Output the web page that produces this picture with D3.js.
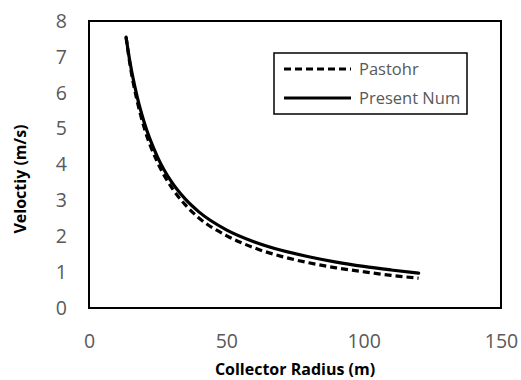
<!DOCTYPE html>
<html>
<head>
<meta charset="utf-8">
<script src="https://cdn.jsdelivr.net/npm/d3@7"></script>
<style>
  html, body { margin: 0; padding: 0; background: #fff; }
  svg { display: block; }
</style>
</head>
<body>
<svg id="chart" width="521" height="380"></svg>
<script>
const radius  = [13.5, 15, 17.5, 20, 25, 30, 35, 40, 50, 60, 70, 80, 90, 100, 110, 120];
const present = [7.55, 6.82, 5.90, 5.20, 4.20, 3.52, 3.04, 2.68, 2.18, 1.85, 1.61, 1.43, 1.28, 1.16, 1.06, 0.97];
const pastohr = [7.55, 6.75, 5.78, 5.05, 4.05, 3.37, 2.88, 2.51, 2.02, 1.68, 1.44, 1.26, 1.12, 1.01, 0.91, 0.83];
const xTicks = [0, 50, 100, 150];
const yTicks = [0, 1, 2, 3, 4, 5, 6, 7, 8];
const seriesNames = ["Pastohr", "Present Num"];
const xTitle = "Collector Radius (m)";
const yTitle = "Velоctiy (m/s)";

const svg = d3.select("#chart");
const m = {left: 89, top: 21, right: 501, bottom: 308};
const x = d3.scaleLinear().domain([0, 150]).range([m.left, m.right]);
const y = d3.scaleLinear().domain([0, 8]).range([m.bottom, m.top]);
const font = "'Open Sans', 'Liberation Sans', sans-serif";

// axes (labels only)
const xAxis = svg.append("g").attr("transform", `translate(0,${m.bottom})`)
  .call(d3.axisBottom(x).tickValues(xTicks).tickSize(0).tickPadding(26).tickFormat(d3.format("d")));
const yAxis = svg.append("g").attr("transform", `translate(${m.left},0)`)
  .call(d3.axisLeft(y).tickValues(yTicks).tickSize(0).tickPadding(22).tickFormat(d3.format("d")));
[xAxis, yAxis].forEach(a => {
  a.select(".domain").remove();
  a.selectAll("text").attr("fill", "#595959").style("font-family", font).style("font-size", "19.5px");
});

// frame
svg.append("rect")
  .attr("x", m.left).attr("y", m.top)
  .attr("width", m.right - m.left).attr("height", m.bottom - m.top)
  .attr("fill", "none").attr("stroke", "#000").attr("stroke-width", 2);

const line = d3.line().curve(d3.curveMonotoneX);
const ptsPast = radius.map((r, i) => [x(r), y(pastohr[i])]);
const ptsPres = radius.map((r, i) => [x(r), y(present[i])]);

svg.append("path").attr("d", line(ptsPast))
  .attr("fill", "none").attr("stroke", "#000").attr("stroke-width", 3.2)
  .attr("stroke-dasharray", "7,4");
svg.append("path").attr("d", line(ptsPres))
  .attr("fill", "none").attr("stroke", "#000").attr("stroke-width", 3.2)
  .attr("stroke-linecap", "round");

// legend
const lg = svg.append("g");
lg.append("rect").attr("x", 274).attr("y", 53).attr("width", 193).attr("height", 61)
  .attr("fill", "#fff").attr("stroke", "#000").attr("stroke-width", 1.5);
const ly = [69, 98];
seriesNames.forEach((name, i) => {
  lg.append("line").attr("x1", 284).attr("x2", 351).attr("y1", ly[i]).attr("y2", ly[i])
    .attr("stroke", "#000").attr("stroke-width", 3.2)
    .attr("stroke-dasharray", i === 0 ? "7,4" : null);
  lg.append("text").attr("x", 359).attr("y", ly[i]).attr("dy", "0.35em")
    .attr("fill", "#595959").style("font-family", font).style("font-size", "16.5px")
    .text(name);
});

// titles
svg.append("text").attr("x", 295).attr("y", 369).attr("dy", "0.35em")
  .attr("text-anchor", "middle").style("font-family", font).style("font-size", "16px")
  .style("font-weight", "bold").attr("fill", "#000").text(xTitle);
svg.append("text").attr("transform", "translate(20,179) rotate(-90)").attr("dy", "0.35em")
  .attr("text-anchor", "middle").style("font-family", font).style("font-size", "16px")
  .style("font-weight", "bold").attr("fill", "#000").text(yTitle);
</script>
</body>
</html>
